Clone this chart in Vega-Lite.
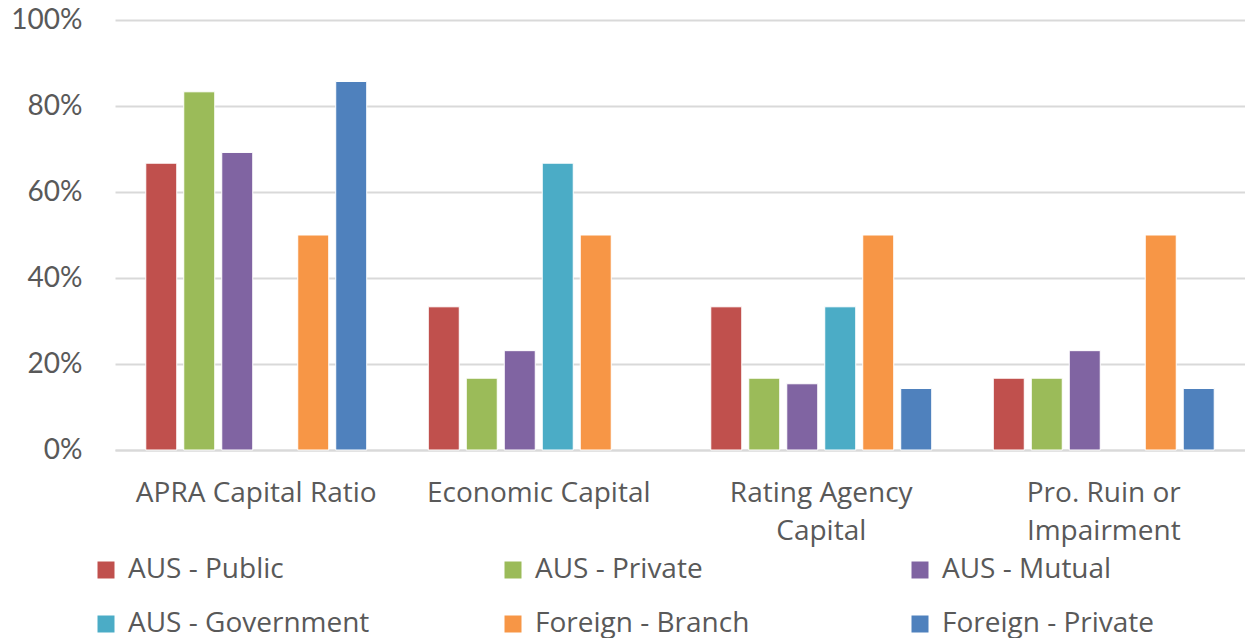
{
  "$schema": "https://vega.github.io/schema/vega-lite/v6.json",
  "width": 1130,
  "height": 430,
  "autosize": {"type": "none"},
  "padding": {"left": 115, "top": 20, "right": 0, "bottom": 188},
  "background": "white",
  "config": {
    "view": {"stroke": null},
    "font": "Lato"
  },
  "data": {
    "values": [
      {"method": "APRA Capital Ratio", "type": "AUS - Public", "share": 0.667},
      {"method": "APRA Capital Ratio", "type": "AUS - Private", "share": 0.833},
      {"method": "APRA Capital Ratio", "type": "AUS - Mutual", "share": 0.692},
      {"method": "APRA Capital Ratio", "type": "Foreign - Branch", "share": 0.5},
      {"method": "APRA Capital Ratio", "type": "Foreign - Private", "share": 0.857},
      {"method": "Economic Capital", "type": "AUS - Public", "share": 0.333},
      {"method": "Economic Capital", "type": "AUS - Private", "share": 0.167},
      {"method": "Economic Capital", "type": "AUS - Mutual", "share": 0.231},
      {"method": "Economic Capital", "type": "AUS - Government", "share": 0.667},
      {"method": "Economic Capital", "type": "Foreign - Branch", "share": 0.5},
      {"method": "Rating Agency Capital", "type": "AUS - Public", "share": 0.333},
      {"method": "Rating Agency Capital", "type": "AUS - Private", "share": 0.167},
      {"method": "Rating Agency Capital", "type": "AUS - Mutual", "share": 0.154},
      {"method": "Rating Agency Capital", "type": "AUS - Government", "share": 0.333},
      {"method": "Rating Agency Capital", "type": "Foreign - Branch", "share": 0.5},
      {"method": "Rating Agency Capital", "type": "Foreign - Private", "share": 0.143},
      {"method": "Pro. Ruin or Impairment", "type": "AUS - Public", "share": 0.167},
      {"method": "Pro. Ruin or Impairment", "type": "AUS - Private", "share": 0.167},
      {"method": "Pro. Ruin or Impairment", "type": "AUS - Mutual", "share": 0.231},
      {"method": "Pro. Ruin or Impairment", "type": "Foreign - Branch", "share": 0.5},
      {"method": "Pro. Ruin or Impairment", "type": "Foreign - Private", "share": 0.143}
    ]
  },
  "mark": {"type": "bar", "stroke": "white", "strokeWidth": 1},
  "encoding": {
    "x": {
      "field": "method",
      "type": "nominal",
      "sort": ["APRA Capital Ratio", "Economic Capital", "Rating Agency Capital", "Pro. Ruin or Impairment"],
      "scale": {"paddingInner": 0, "paddingOuter": 0},
      "axis": {
        "title": null,
        "labelAngle": 0,
        "labelFont": "Open Sans",
        "labelFontSize": 28,
        "labelColor": "#595959",
        "labelPadding": 29,
        "labelLineHeight": 38,
        "labelBaseline": "top",
        "labelLimit": 400,
        "ticks": false,
        "domainColor": "#D9D9D9",
        "domainWidth": 2,
        "labelExpr": "datum.label == 'Rating Agency Capital' ? ['Rating Agency', 'Capital'] : datum.label == 'Pro. Ruin or Impairment' ? ['Pro. Ruin or', 'Impairment'] : datum.label"
      }
    },
    "xOffset": {
      "field": "type",
      "type": "nominal",
      "sort": ["AUS - Public", "AUS - Private", "AUS - Mutual", "AUS - Government", "Foreign - Branch", "Foreign - Private"],
      "scale": {
        "domain": ["AUS - Public", "AUS - Private", "AUS - Mutual", "AUS - Government", "Foreign - Branch", "Foreign - Private"],
        "paddingInner": 0.184,
        "paddingOuter": 0.81
      }
    },
    "y": {
      "field": "share",
      "type": "quantitative",
      "scale": {"domain": [0, 1]},
      "axis": {
        "title": null,
        "format": ".0%",
        "values": [0, 0.2, 0.4, 0.6, 0.8, 1],
        "labelFontSize": 28,
        "labelColor": "#595959",
        "labelPadding": 33,
        "ticks": false,
        "domain": false,
        "gridColor": "#D9D9D9",
        "gridWidth": 2
      }
    },
    "color": {
      "field": "type",
      "type": "nominal",
      "sort": ["AUS - Public", "AUS - Private", "AUS - Mutual", "AUS - Government", "Foreign - Branch", "Foreign - Private"],
      "scale": {
        "domain": ["AUS - Public", "AUS - Private", "AUS - Mutual", "AUS - Government", "Foreign - Branch", "Foreign - Private"],
        "range": ["#C0504D", "#9BBB59", "#8064A2", "#4BACC6", "#F79646", "#4F81BD"]
      },
      "legend": {
        "title": null,
        "orient": "none",
        "legendX": -23,
        "legendY": 536,
        "padding": 0,
        "direction": "horizontal",
        "columns": 3,
        "gridAlign": "all",
        "columnPadding": 129,
        "rowPadding": 26,
        "symbolType": "square",
        "symbolSize": 289,
        "symbolStrokeWidth": 0,
        "labelFont": "Open Sans",
        "labelFontSize": 28,
        "labelColor": "#595959",
        "labelOffset": 8,
        "labelLimit": 400
      }
    }
  }
}
